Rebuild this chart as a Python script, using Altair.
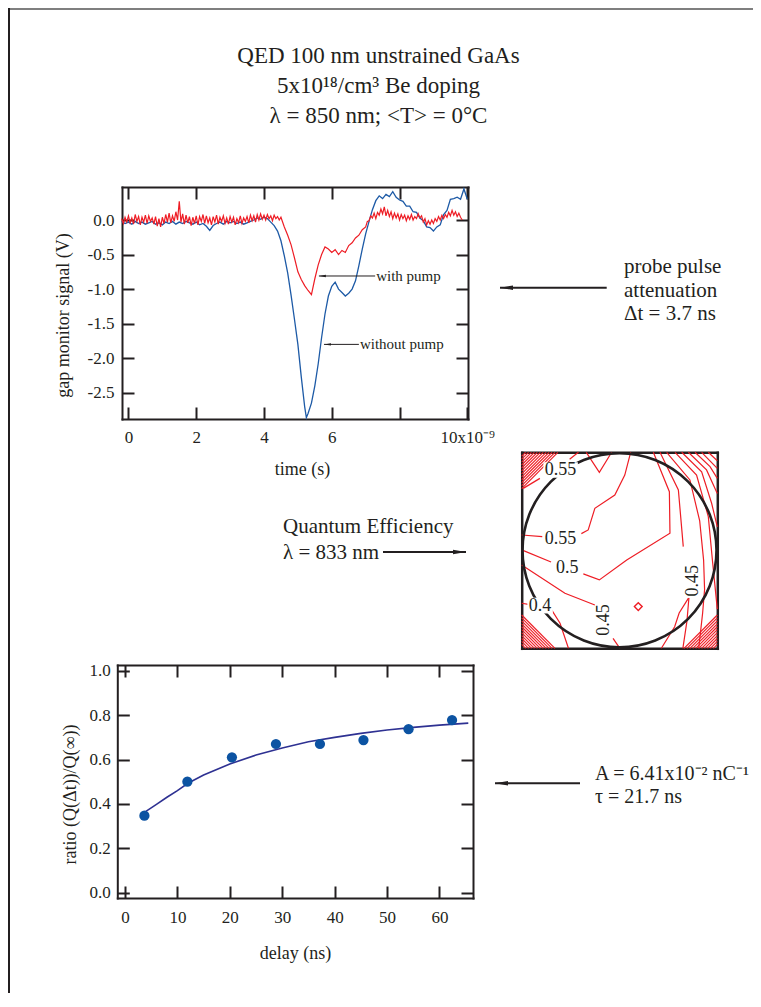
import altair as alt
import pandas as pd

W, H = 745, 985
FONT = "Liberation Serif"
INK = "#231f20"
RED = "#ee1d25"
BLUE = "#1d5aa6"
DOT = "#0c53a2"
FIT = "#2e3192"

# ---------------- top panel: gap monitor signal (time in ns) ----------------
TIME_WITH_PUMP = [
    -0.2, -0.15, -0.1, -0.05, 0.0, 0.05, 0.1, 0.15, 0.2, 0.25,
    0.3, 0.35, 0.4, 0.45, 0.5, 0.55, 0.6, 0.65, 0.7, 0.75,
    0.8, 0.85, 0.9, 0.95, 1.0, 1.05, 1.1, 1.15, 1.2, 1.25,
    1.3, 1.35, 1.4, 1.45, 1.5, 1.55, 1.6, 1.65, 1.7, 1.75,
    1.8, 1.85, 1.9, 1.95, 2.0, 2.05, 2.1, 2.15, 2.2, 2.25,
    2.3, 2.35, 2.4, 2.45, 2.5, 2.55, 2.6, 2.65, 2.7, 2.75,
    2.8, 2.85, 2.9, 2.95, 3.0, 3.05, 3.1, 3.15, 3.2, 3.25,
    3.3, 3.35, 3.4, 3.45, 3.5, 3.55, 3.6, 3.65, 3.7, 3.75,
    3.8, 3.85, 3.9, 3.95, 4.0, 4.05, 4.1, 4.15, 4.2, 4.25,
    4.3, 4.35, 4.4, 4.45, 4.5,
    4.6, 4.7, 4.8, 4.9, 5.0, 5.1, 5.2, 5.3, 5.4, 5.5,
    5.6, 5.7, 5.8, 5.9, 6.0, 6.1, 6.2, 6.3, 6.4, 6.5,
    6.6, 6.7, 6.8, 6.9,
    7.0, 7.05, 7.1, 7.15, 7.2, 7.25, 7.3, 7.35, 7.4, 7.45,
    7.5, 7.55, 7.6, 7.65, 7.7, 7.75, 7.8, 7.85, 7.9, 7.95,
    8.0, 8.05, 8.1, 8.15, 8.2, 8.25, 8.3, 8.35, 8.4, 8.45,
    8.5, 8.55, 8.6, 8.65, 8.7, 8.75, 8.8, 8.85, 8.9, 8.95,
    9.0, 9.05, 9.1, 9.15, 9.2, 9.25, 9.3, 9.35, 9.4, 9.45,
    9.5, 9.55, 9.6, 9.65, 9.7, 9.75, 9.8, 9.85]
SIGNAL_WITH_PUMP = [
    0.02, -0.05, 0.04, -0.03, 0.06, -0.04, 0.03, -0.06, 0.08, -0.02,
    0.05, -0.07, 0.04, -0.03, 0.07, -0.05, 0.06, -0.02, 0.03, -0.06,
    0.05, -0.09, 0.02, -0.1, 0.04, -0.05, 0.08, -0.03, 0.1, -0.04,
    0.06, -0.02, 0.12, 0.0, 0.27, -0.03, 0.09, -0.06, 0.07, -0.04,
    0.05, -0.08, 0.04, -0.05, 0.06, -0.07, 0.05, -0.02, 0.08, -0.05,
    0.06, -0.04, 0.03, -0.07, 0.05, -0.03, 0.07, -0.06, 0.04, -0.02,
    0.06, -0.05, 0.03, -0.06, 0.05, -0.03, 0.04, -0.07, 0.02, -0.04,
    0.06, -0.05, 0.03, -0.02, 0.05, -0.04, 0.07, -0.01, 0.06, -0.03,
    0.08, 0.0, 0.09, 0.01, 0.07, 0.0, 0.08, 0.02, 0.06, -0.01,
    0.07, 0.02, 0.05, 0.0, 0.04,
    -0.1, -0.22, -0.36, -0.55, -0.75, -0.86, -0.95, -1.02, -1.08, -0.85,
    -0.65, -0.5, -0.39, -0.42, -0.47, -0.43, -0.5, -0.44, -0.47, -0.37,
    -0.33, -0.26, -0.22, -0.14,
    -0.1, -0.02, -0.01, 0.06, 0.03, 0.1, 0.02, 0.11, 0.07, 0.16,
    0.09, 0.19, 0.06, 0.14, 0.05, 0.12, 0.02, 0.1, 0.03, 0.09,
    0.0, 0.08, 0.02, 0.07, -0.01, 0.06, 0.01, 0.08, 0.0, 0.05,
    0.02, 0.09, 0.03, 0.06, -0.03, 0.02, -0.07, -0.01, -0.06, 0.0,
    -0.05, 0.02, -0.02, 0.05, 0.0, 0.07, 0.02, 0.08, 0.04, 0.11,
    0.06, 0.14, 0.07, 0.12, 0.05, 0.1, 0.04, 0.0]

TIME_WITHOUT_PUMP = [-0.2, -0.1, 0.0, 0.1, 0.2, 0.3, 0.4, 0.5, 0.6, 0.7, 0.8, 0.9, 1.0, 1.1, 1.2, 1.3,
                     1.4, 1.5, 1.6, 1.7, 1.8, 1.9, 2.0, 2.1, 2.2, 2.3, 2.4, 2.5, 2.6, 2.7, 2.8, 2.9,
                     3.0, 3.1, 3.2, 3.3, 3.4, 3.5, 3.6, 3.7, 3.8, 3.9, 4.0, 4.1, 4.2, 4.3, 4.4, 4.5,
                     4.6, 4.7, 4.8, 4.9, 5.0, 5.1, 5.2, 5.25, 5.3, 5.4, 5.5, 5.6, 5.7, 5.8, 5.9, 6.0,
                     6.1, 6.2, 6.3, 6.4, 6.5, 6.6, 6.7, 6.8, 6.9, 7.0, 7.1, 7.2, 7.3, 7.4, 7.5, 7.6,
                     7.7, 7.8, 7.9, 8.0, 8.1, 8.2, 8.3, 8.4, 8.5, 8.6, 8.7, 8.8, 8.9, 9.0, 9.1, 9.2,
                     9.3, 9.4, 9.5, 9.6, 9.7, 9.8, 9.9, 10.0]
SIGNAL_WITHOUT_PUMP = [-0.02, -0.05, -0.03, -0.06, -0.02, -0.05, -0.03, -0.06, -0.04, -0.02,
                       -0.06, -0.04, -0.07, -0.03, -0.05, -0.02, -0.06, -0.03, -0.05, -0.02,
                       -0.04, -0.06, -0.03, -0.07, -0.05, -0.09, -0.15, -0.08, -0.05, -0.03,
                       -0.06, -0.02, -0.04, -0.02, -0.05, -0.03, -0.06, -0.04, -0.02, 0.0,
                       0.03, 0.01, 0.04, 0.02, -0.03, -0.08, -0.16, -0.3, -0.52, -0.77,
                       -1.09, -1.44, -1.8, -2.27, -2.7, -2.86,
                       -2.8, -2.65, -2.4, -2.08, -1.7, -1.36, -1.1, -0.96, -0.9, -1.0,
                       -1.05, -1.1, -1.06, -1.0, -0.88, -0.66, -0.42, -0.2, -0.02, 0.15,
                       0.28, 0.35, 0.31, 0.37, 0.34, 0.41, 0.33, 0.29, 0.27, 0.2,
                       0.2, 0.12, 0.11, 0.03, -0.01, -0.1, -0.11, -0.16, -0.1, -0.07,
                       0.08, 0.14, 0.3, 0.31, 0.33, 0.3, 0.45, 0.3]
TIME_TICKS = [0, 2, 4, 6, 8, 10]
SIGNAL_TICKS = [0.0, -0.5, -1.0, -1.5, -2.0, -2.5]

# ---------------- bottom panel: ratio vs delay ----------------
DELAY_NS = [3.7, 11.9, 20.4, 28.8, 37.2, 45.5, 54.1, 62.4]
RATIO = [0.347, 0.50, 0.61, 0.67, 0.67, 0.688, 0.737, 0.778]
FIT_DELAY_NS = [3.7, 6, 8, 10, 12, 15, 20, 25, 30, 35, 40, 45, 50, 55, 60, 65.5]
FIT_RATIO = [0.362, 0.398, 0.43, 0.46, 0.493, 0.53, 0.58, 0.62, 0.652, 0.68, 0.70, 0.718,
             0.733, 0.745, 0.755, 0.764]
DELAY_TICKS = [0, 10, 20, 30, 40, 50, 60]
RATIO_TICKS = [0.0, 0.2, 0.4, 0.6, 0.8, 1.0]

# ---------------- QE map (normalised wafer coordinates, v downward) ----------------
QE_CONTOURS = {
    "055_top_a": [(0.8, 18.4), (9.3, 13.3)],
    "055_top_b": [(24.5, 3.5), (29.0, 0.0)],
    "notch": [(33.0, 0.0), (39.7, 10.2), (46.0, 0.0)],
    "055_mid_a": [(0.0, 42.2), (10.5, 43.0)],
    "055_mid_b": [(30.5, 41.5), (34.0, 39.6), (37.4, 28.6), (47.6, 21.8), (52.7, 11.6), (55.7, 0.0)],
    "050_a": [(0.0, 49.8), (15.0, 56.0)],
    "050_b": [(31.5, 62.0), (39.7, 65.1), (53.7, 54.9), (75.8, 41.3), (75.5, 20.1), (67.3, 0.0)],
    "045_a": [(0.0, 57.5), (22.1, 71.9), (37.4, 77.9)],
    "045_b": [(46.7, 94.9), (50.2, 100.0)],
    "040_a": [(0.0, 77.0), (3.5, 77.6)],
    "040_b": [(15.3, 80.4), (19.6, 87.2), (23.9, 100.0)],
    "045r_a": [(70.7, 0.0), (80.1, 19.2), (82.6, 48.1)],
    "045r_b": [(85.5, 74.0), (80.5, 82.0), (78.2, 89.0), (71.4, 100.0)],
    "045r_c": [(85.5, 74.0), (84.5, 86.0), (82.4, 100.0)],
    "r1": [(74.1, 0.0), (86.0, 14.1), (91.0, 35.0), (93.0, 55.0), (93.5, 70.0), (92.5, 82.0), (90.5, 100.0)],
    "r2": [(78.4, 0.0), (89.4, 11.6), (95.4, 32.8), (97.5, 55.0), (100.0, 80.0)],
    "r3": [(81.8, 0.0), (92.0, 9.9), (97.1, 26.0), (100.0, 38.0)],
    "r4": [(85.2, 0.0), (94.5, 9.0), (100.0, 21.0)],
    "r5": [(88.6, 0.0), (96.3, 7.3), (100.0, 13.3)],
    "r6": [(92.0, 0.0), (100.0, 8.2)],
    "r7": [(95.4, 0.0), (100.0, 4.3)],
}
HATCH_TOP_LEFT = [2.0, 3.5, 5.0, 6.5, 8.0, 9.5, 11.0, 12.5, 14.0, 15.5, 17.0, 18.5]
HATCH_BOTTOM_LEFT = [2.0, 3.5, 5.0, 6.5, 8.0, 9.5, 11.0, 12.5, 14.0, 15.5, 17.0]
HATCH_BOTTOM_RIGHT = [2.0, 3.5, 5.0, 6.5, 8.0, 9.5, 11.0, 12.5, 14.0, 15.5, 17.0]
QE_MIN_U, QE_MIN_V = [59.6], [78.7]
QE_LABEL_TEXT = ["0.55", "0.55", "0.5", "0.4"]
QE_LABEL_U = [19.9, 19.9, 23.3, 9.4]
QE_LABEL_V = [9.0, 44.2, 58.8, 78.2]
QE_VLABEL_TEXT = ["0.45", "0.45"]
QE_VLABEL_U = [42.2, 87.7]
QE_VLABEL_V = [85.5, 65.5]

# ---------------- text ----------------
TITLE_LINES = ["QED 100 nm unstrained GaAs", "5x10\u00b9\u2078/cm\u00b3 Be doping",
               "\u03bb = 850 nm; <T> = 0\u00b0C"]
PROBE_LINES = ["probe pulse", "attenuation", "\u0394t = 3.7 ns"]
QE_LINES = ["Quantum Efficiency", "\u03bb = 833 nm"]
FIT_LINES = ["A = 6.41x10\u207b\u00b2 nC\u207b\u00b9", "\u03c4 = 21.7 ns"]

# ---------------- layout (pixels in the chart) ----------------
TOP_X_DOM, TOP_X_RNG = [-0.19, 10.02], [114, 460]
TOP_Y_DOM, TOP_Y_RNG = [-2.88, 0.478], [411, 179]
BOT_X_DOM, BOT_X_RNG = [-1.47, 66.4], [109.3, 465]
BOT_Y_DOM, BOT_Y_RNG = [-0.024, 1.026], [890, 657]
QE_DOM, QE_X_RNG, QE_Y_RNG = [0, 100], [513.7, 709.3], [444.3, 640.3]


def sc(dom, rng):
    return alt.Scale(domain=dom, range=rng, nice=False, zero=False)


BASE = dict(grid=False, domainColor=INK, domainWidth=2, domainCap="square", tickColor=INK,
            tickWidth=2, tickSize=12, labelColor=INK, labelFont=FONT, labelFontSize=17,
            titleColor=INK, titleFont=FONT, titleFontSize=18, titleFontWeight="normal",
            labelFlush=False, labelOverlap=False, title="")


def ax(**kw):
    d = dict(BASE)
    d.update(kw)
    return alt.Axis(**d)


MINUS = "replace(format(datum.value, '.1f'), '\u2212', '-')"

# ---- top panel axes
top_x_lab = ax(orient="bottom", offset=TOP_Y_RNG[0] - H, ticks=False, values=TIME_TICKS,
               labelExpr="datum.value == 10 ? '10x10\u207b\u2079' : (datum.value == 8 ? '' : format(datum.value, 'd'))",
               labelPadding=23, labelBaseline="alphabetic", title="time (s)", titleX=294, titleY=55,
               titleBaseline="alphabetic", titleAlign="center")
top_x_in_b = ax(orient="top", offset=-TOP_Y_RNG[0], labels=False, domain=False, values=TIME_TICKS)
top_x_in_t = ax(orient="bottom", offset=TOP_Y_RNG[1] - H, labels=False, values=TIME_TICKS)
top_y_lab = ax(orient="left", offset=-TOP_X_RNG[0], ticks=False, values=SIGNAL_TICKS, labelExpr=MINUS,
               labelPadding=8, title="gap monitor signal (V)", titleAngle=270, titleX=-54, titleY=307,
               titleBaseline="alphabetic", titleAlign="center")
top_y_in_l = ax(orient="right", offset=TOP_X_RNG[0] - W, labels=False, domain=False, values=SIGNAL_TICKS)
top_y_in_r = ax(orient="left", offset=-TOP_X_RNG[1], labels=False, values=SIGNAL_TICKS)


def tx(field, axis):
    return alt.X(field, type="quantitative", scale=sc(TOP_X_DOM, TOP_X_RNG), axis=axis)


def ty(field, axis):
    return alt.Y(field, type="quantitative", scale=sc(TOP_Y_DOM, TOP_Y_RNG), axis=axis)


df_blue = pd.DataFrame({"t": TIME_WITHOUT_PUMP, "s": SIGNAL_WITHOUT_PUMP})
df_red = pd.DataFrame({"t": TIME_WITH_PUMP, "s": SIGNAL_WITH_PUMP})

blue = alt.Chart(df_blue).mark_line(color=BLUE, strokeWidth=1.3).encode(
    x=tx("t", top_x_lab), y=ty("s", top_y_lab))
red = alt.Chart(df_red).mark_line(color=RED, strokeWidth=1.2).encode(
    x=tx("t", top_x_in_b), y=ty("s", top_y_in_l))

ann = pd.DataFrame({"x": [7.28, 6.8], "x2": [5.62, 5.77], "y": [-0.81, -1.80],
                    "label": ["with pump", "without pump"]})
ann_rule = alt.Chart(ann).mark_rule(color=INK, strokeWidth=1).encode(
    x=tx("x", top_x_in_t), x2="x2:Q", y=ty("y", top_y_in_r))
HEAD_LEFT = "M0,0L2,-0.35L2,0.35Z"
HEAD_RIGHT = "M0,0L-2,-0.35L-2,0.35Z"
ann_head = alt.Chart(ann).mark_point(shape=HEAD_LEFT, filled=True, size=49, color=INK, opacity=1,
                                     strokeWidth=0).encode(x=tx("x2", None), y=ty("y", None))
ann_text = alt.Chart(ann).mark_text(align="left", baseline="middle", font=FONT, fontSize=15, color=INK,
                                    dx=1).encode(x=tx("x", None), y=ty("y", None), text="label:N")

# ---- bottom panel
bot_x_lab = ax(orient="bottom", offset=BOT_Y_RNG[0] - H, ticks=False, values=DELAY_TICKS,
               labelExpr="format(datum.value, 'd')", labelPadding=24, labelBaseline="alphabetic",
               title="delay (ns)", titleX=287, titleY=60, titleBaseline="alphabetic", titleAlign="center")
bot_x_in_b = ax(orient="top", offset=-BOT_Y_RNG[0], labels=False, domain=False, values=DELAY_TICKS)
bot_x_in_t = ax(orient="bottom", offset=BOT_Y_RNG[1] - H, labels=False, values=DELAY_TICKS)
bot_y_lab = ax(orient="left", offset=-BOT_X_RNG[0], ticks=False, values=RATIO_TICKS, labelExpr=MINUS,
               labelPadding=7, title="ratio (Q(\u0394t))/Q(\u221e))", titleAngle=270, titleX=-42, titleY=786,
               titleBaseline="alphabetic", titleAlign="center")
bot_y_in_l = ax(orient="right", offset=BOT_X_RNG[0] - W, labels=False, domain=False, values=RATIO_TICKS)
bot_y_in_r = ax(orient="left", offset=-BOT_X_RNG[1], labels=False, values=RATIO_TICKS)


def bx(field, axis):
    return alt.X(field, type="quantitative", scale=sc(BOT_X_DOM, BOT_X_RNG), axis=axis)


def by(field, axis):
    return alt.Y(field, type="quantitative", scale=sc(BOT_Y_DOM, BOT_Y_RNG), axis=axis)


df_pts = pd.DataFrame({"d": DELAY_NS, "r": RATIO})
df_fit = pd.DataFrame({"d": FIT_DELAY_NS, "r": FIT_RATIO})
fit = alt.Chart(df_fit).mark_line(color=FIT, strokeWidth=1.6).encode(
    x=bx("d", bot_x_in_b), y=by("r", bot_y_in_l))
pts = alt.Chart(df_pts).mark_circle(color=DOT, size=105, opacity=1).encode(
    x=bx("d", bot_x_lab), y=by("r", bot_y_lab))
pts_frame = alt.Chart(df_pts).mark_point(opacity=0).encode(
    x=bx("d", bot_x_in_t), y=by("r", bot_y_in_r))

# ---- QE map
rows = []
for name, ptsl in QE_CONTOURS.items():
    for i, (u, v) in enumerate(ptsl):
        rows.append({"seg": name, "i": i, "u": u, "v": v})
for k, a in enumerate(HATCH_TOP_LEFT):
    rows += [{"seg": f"tl{k}", "i": 0, "u": a, "v": 0.0}, {"seg": f"tl{k}", "i": 1, "u": 0.0, "v": a}]
for k, a in enumerate(HATCH_BOTTOM_LEFT):
    rows += [{"seg": f"bl{k}", "i": 0, "u": 0.0, "v": 100 - a}, {"seg": f"bl{k}", "i": 1, "u": a, "v": 100.0}]
for k, a in enumerate(HATCH_BOTTOM_RIGHT):
    rows += [{"seg": f"br{k}", "i": 0, "u": 100 - a, "v": 100.0}, {"seg": f"br{k}", "i": 1, "u": 100.0, "v": 100 - a}]
df_cont = pd.DataFrame(rows)

QB = dict(grid=False, ticks=False, labels=False, domainColor=INK, domainWidth=2.5, domainCap="square", title="")
qe_x_b = alt.Axis(orient="bottom", offset=QE_Y_RNG[1] - H, **QB)
qe_x_t = alt.Axis(orient="top", offset=-QE_Y_RNG[0], **QB)
qe_y_l = alt.Axis(orient="left", offset=-QE_X_RNG[0], **QB)
qe_y_r = alt.Axis(orient="right", offset=QE_X_RNG[1] - W, **QB)


def qx(field, axis):
    return alt.X(field, type="quantitative", scale=sc(QE_DOM, QE_X_RNG), axis=axis)


def qy(field, axis):
    return alt.Y(field, type="quantitative", scale=sc(QE_DOM, QE_Y_RNG), axis=axis)


contours = alt.Chart(df_cont).mark_line(color=RED, strokeWidth=1.2).encode(
    x=qx("u", qe_x_t), y=qy("v", qe_y_r), detail="seg:N", order="i:Q")
wafer = alt.Chart(pd.DataFrame({"u": [50.0], "v": [50.0]})).mark_point(
    shape="circle", filled=False, size=37636, color=INK, strokeWidth=2.6, opacity=1).encode(
    x=qx("u", qe_x_b), y=qy("v", qe_y_l))
df_hl = pd.DataFrame({"u": QE_LABEL_U, "v": QE_LABEL_V, "t": QE_LABEL_TEXT})
df_vl = pd.DataFrame({"u": QE_VLABEL_U, "v": QE_VLABEL_V, "t": QE_VLABEL_TEXT})
bg_wide = alt.Chart(df_hl[df_hl.t == "0.55"]).mark_point(
    shape="M-1,-0.45H1V0.45H-1Z", filled=True, color="white", size=1190, opacity=1, strokeWidth=0).encode(
    x=qx("u", None), y=qy("v", None))
bg_narrow = alt.Chart(df_hl[df_hl.t != "0.55"]).mark_point(
    shape="M-1,-0.62H1V0.62H-1Z", filled=True, color="white", size=650, opacity=1, strokeWidth=0).encode(
    x=qx("u", None), y=qy("v", None))
bg_vert = alt.Chart(df_vl).mark_point(
    shape="M-0.45,-1H0.45V1H-0.45Z", filled=True, color="white", size=1190, opacity=1, strokeWidth=0).encode(
    x=qx("u", None), y=qy("v", None))
lab_h = alt.Chart(df_hl).mark_text(font=FONT, fontSize=18, color=INK, align="center", baseline="middle").encode(
    x=qx("u", None), y=qy("v", None), text="t:N")
lab_v = alt.Chart(df_vl).mark_text(font=FONT, fontSize=18, color=INK, align="center", baseline="middle",
                                   angle=270).encode(x=qx("u", None), y=qy("v", None), text="t:N")
qe_min = alt.Chart(pd.DataFrame({"u": QE_MIN_U, "v": QE_MIN_V})).mark_point(
    shape="diamond", filled=False, size=60, color=RED, strokeWidth=1.4, opacity=1).encode(
    x=qx("u", None), y=qy("v", None))

# ---- canvas annotations (pixel coordinates)
CXS, CYS = sc([0, W], [0, W]), sc([0, H], [0, H])


def cx(field):
    return alt.X(field, type="quantitative", scale=CXS, axis=None)


def cy(field):
    return alt.Y(field, type="quantitative", scale=CYS, axis=None)


df_title = pd.DataFrame({"x": [370.5] * 3, "y": [55.3, 85.3, 114.7], "t": TITLE_LINES})
df_side = pd.DataFrame({"x": [616, 616, 616, 275, 275],
                        "y": [265.3, 288.7, 312.0, 525.0, 551.0],
                        "t": PROBE_LINES + QE_LINES})
df_fit_text = pd.DataFrame({"x": [587, 587], "y": [772.0, 795.0], "t": FIT_LINES})
title_text = alt.Chart(df_title).mark_text(font=FONT, fontSize=23, color=INK, align="center",
                                           baseline="alphabetic").encode(x=cx("x"), y=cy("y"), text="t:N")
side_text = alt.Chart(df_side).mark_text(font=FONT, fontSize=21, color=INK, align="left",
                                         baseline="alphabetic").encode(x=cx("x"), y=cy("y"), text="t:N")
fit_text = alt.Chart(df_fit_text).mark_text(font=FONT, fontSize=20, color=INK, align="left",
                                            baseline="alphabetic").encode(x=cx("x"), y=cy("y"), text="t:N")
df_arrow = pd.DataFrame({"x": [492.0, 375.0, 487.0], "x2": [598.7, 458.0, 572.0], "y": [279.7, 544.0, 775.3]})
arrow_lines = alt.Chart(df_arrow).mark_rule(color=INK, strokeWidth=2).encode(x=cx("x"), x2="x2:Q", y=cy("y"))
heads_l = alt.Chart(pd.DataFrame({"x": [492.0, 487.0], "y": [279.7, 775.3]})).mark_point(
    shape=HEAD_LEFT, filled=True, size=169, color=INK, opacity=1, strokeWidth=0).encode(x=cx("x"), y=cy("y"))
heads_r = alt.Chart(pd.DataFrame({"x": [458.0], "y": [544.0]})).mark_point(
    shape=HEAD_RIGHT, filled=True, size=169, color=INK, opacity=1, strokeWidth=0).encode(x=cx("x"), y=cy("y"))
frame_top = alt.Chart(pd.DataFrame({"x": [0.0], "x2": [float(W)], "y": [1.0]})).mark_rule(
    color="#555555", strokeWidth=1.5).encode(x=cx("x"), x2="x2:Q", y=cy("y"))
frame_left = alt.Chart(pd.DataFrame({"x": [1.0], "y": [0.0], "y2": [float(H)]})).mark_rule(
    color=INK, strokeWidth=2).encode(x=cx("x"), y=cy("y"), y2="y2:Q")

chart = alt.layer(
    frame_top, frame_left,
    blue, red, ann_rule, ann_head, ann_text,
    fit, pts, pts_frame,
    contours, wafer, bg_wide, bg_narrow, bg_vert, lab_h, lab_v, qe_min,
    title_text, side_text, fit_text, arrow_lines, heads_l, heads_r,
).resolve_scale(x="independent", y="independent").properties(
    width=W, height=H, autosize=alt.AutoSizeParams(type="none"), padding=0,
).configure_view(stroke=None)

chart.save("out.html", embed_options={"renderer": "svg", "actions": False})
